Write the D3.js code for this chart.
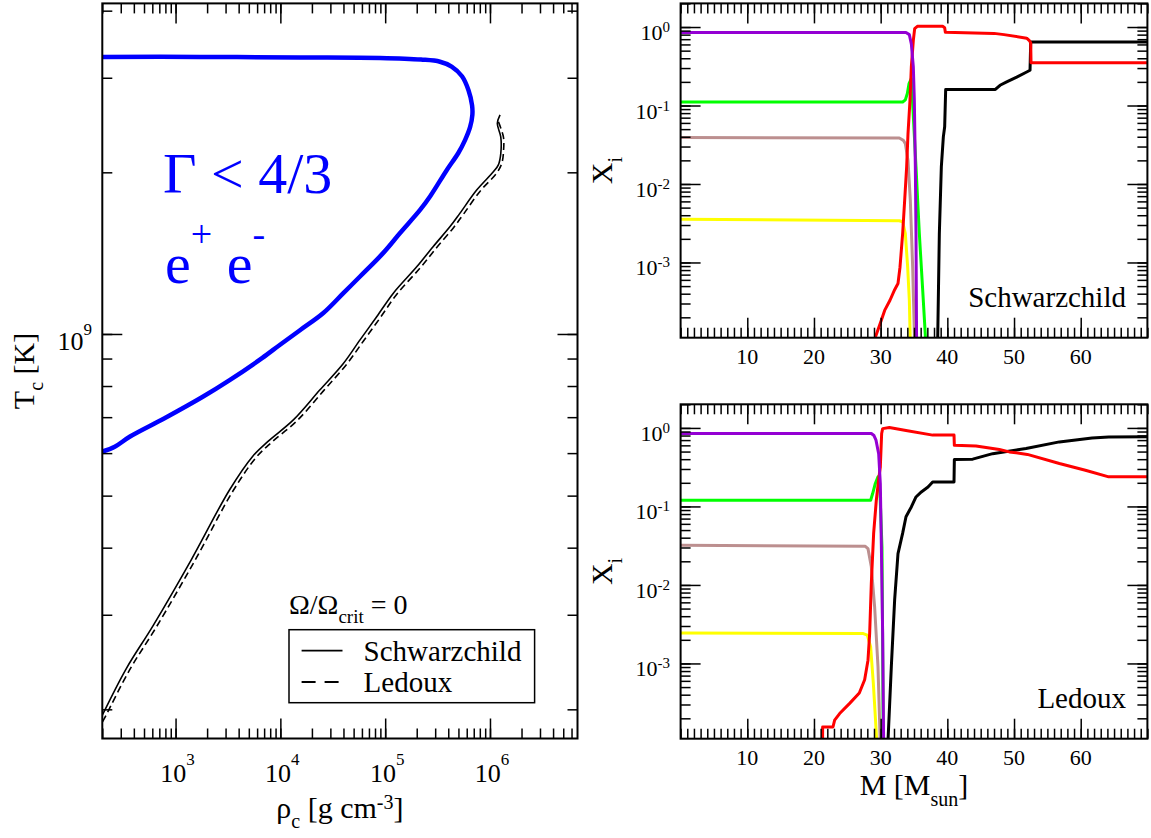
<!DOCTYPE html>
<html>
<head>
<meta charset="utf-8">
<script src="https://cdn.jsdelivr.net/npm/d3@7.9.0/dist/d3.min.js"></script>
<style>
  body { margin: 0; background: #fff; }
  svg { display: block; font-family: "Liberation Serif", "Times New Roman", serif; }
</style>
</head>
<body>
<svg id="fig" width="1151" height="838"></svg>
<script>
// ---- left panel: central track, [log10 rho_c, log10 T_c] ----
const gammaEdge = [
  [2.301, 9.516], [3.233, 9.516], [4.188, 9.515], [4.951, 9.514], [5.342, 9.511],
  [5.523, 9.507], [5.634, 9.498], [5.733, 9.480], [5.795, 9.454], [5.829, 9.426],
  [5.832, 9.408], [5.810, 9.385], [5.762, 9.361], [5.698, 9.337], [5.587, 9.305],
  [5.428, 9.256], [5.333, 9.231], [5.142, 9.188], [4.982, 9.151], [4.760, 9.107],
  [4.601, 9.076], [4.410, 9.039], [4.187, 9.007], [3.997, 8.980], [3.825, 8.955],
  [3.516, 8.914], [3.260, 8.883], [2.895, 8.843], [2.566, 8.809], [2.420, 8.790],
  [2.301, 8.781]
];
const schwTrack = [
  [6.096, 9.408], [6.070, 9.392], [6.103, 9.367], [6.103, 9.336], [6.080, 9.315],
  [6.032, 9.302], [5.873, 9.268], [5.714, 9.225], [5.619, 9.200], [5.459, 9.163],
  [5.301, 9.125], [5.078, 9.076], [4.919, 9.032], [4.760, 8.989], [4.601, 8.945],
  [4.378, 8.896], [4.124, 8.840], [3.882, 8.800], [3.735, 8.772], [3.516, 8.710],
  [3.151, 8.580], [2.786, 8.457], [2.530, 8.377], [2.301, 8.290]
];
const ledTrack = [
  [6.081, 9.395], [6.128, 9.367], [6.130, 9.343], [6.113, 9.318], [6.065, 9.300],
  [5.906, 9.266], [5.747, 9.223], [5.652, 9.198], [5.492, 9.161], [5.334, 9.123],
  [5.111, 9.074], [4.952, 9.030], [4.793, 8.987], [4.634, 8.944], [4.411, 8.894],
  [4.157, 8.838], [3.915, 8.798], [3.768, 8.770], [3.549, 8.708], [3.184, 8.578],
  [2.819, 8.455], [2.563, 8.375], [2.334, 8.289], [2.301, 8.277]
];
const rhoMajor = [1e3, 1e4, 1e5, 1e6];
const rhoLabels = ["3", "4", "5", "6"];
const tMajor = [1e9];
const tLabels = ["9"];

// ---- right panels: mass fraction profiles, [M, X_i] ----
const schwPurple = [[0, 0.85], [33.8, 0.85], [34.3, 0.80], [34.6, 0.61], [34.9, 0.31], [35.05, 0.117], [35.2, 0.0166], [35.3, 0.00234], [35.45, 1e-5]];
const schwGreen = [[0, 0.111], [33.3, 0.111], [33.7, 0.118], [34.0, 0.142], [34.25, 0.19], [34.6, 0.22], [35.3, 0.0166], [35.8, 0.00234], [36.3, 4.5e-4], [36.75, 1.0e-4], [37.0, 3e-5]];
const schwBrown = [[0, 0.039], [32.8, 0.0385], [33.4, 0.036], [33.7, 0.0327], [34.1, 0.02], [34.45, 0.00617], [34.8, 8.7e-4], [35.1, 9e-5], [35.2, 1e-5]];
const schwYellow = [[0, 0.00356], [32.8, 0.0034], [33.3, 0.0033], [33.7, 0.00234], [34.05, 8.7e-4], [34.3, 3.3e-4], [34.45, 9e-5], [34.5, 1e-5]];
const schwRed = [[28.8, 5e-5], [29.1, 1.05e-4], [30.1, 1.84e-4], [30.6, 2.45e-4], [31.4, 3.3e-4], [32.1, 4.5e-4], [32.6, 5.4e-4], [32.9, 8.7e-4], [33.3, 0.00234], [33.6, 0.00617], [33.9, 0.0166], [34.1, 0.0437], [34.4, 0.117], [34.6, 0.31], [34.9, 0.676], [35.1, 0.955], [35.5, 1.02], [39.3, 1.02], [39.6, 0.98], [39.7, 0.86], [47.0, 0.83], [48.5, 0.80], [51.9, 0.72], [52.3, 0.67], [52.5, 0.63], [52.55, 0.35], [70, 0.35]];
const schwBlack = [[38.5, 1e-5], [38.55, 1e-4], [38.8, 0.00234], [39.1, 0.0166], [39.4, 0.0398], [39.6, 0.0537], [39.75, 0.16], [47.2, 0.16], [47.9, 0.181], [48.9, 0.2], [50.4, 0.23], [51.9, 0.267], [52.4, 0.281], [52.5, 0.645], [70, 0.645]];

const ledPurple = [[0, 0.85], [28.6, 0.85], [29.0, 0.80], [29.3, 0.70], [29.7, 0.47], [29.95, 0.196], [30.1, 0.034], [30.3, 0.0024], [30.45, 9e-5], [30.5, 1e-5]];
const ledGreen = [[0, 0.12], [28.5, 0.12], [28.8, 0.146], [29.2, 0.196], [29.6, 0.238], [29.9, 0.15], [30.2, 0.03], [30.4, 9e-5], [30.45, 1e-5]];
const ledBrown = [[0, 0.032], [27.7, 0.031], [28.1, 0.029], [28.6, 0.017], [29.1, 0.0052], [29.6, 9.1e-4], [29.95, 9e-5], [30.0, 1e-5]];
const ledYellow = [[0, 0.00245], [27.4, 0.0024], [28.0, 0.0023], [28.5, 0.00162], [28.9, 5.6e-4], [29.2, 2.1e-4], [29.45, 9e-5], [29.5, 1e-5]];
const ledRed = [[21.25, 1e-5], [21.3, 1.55e-4], [22.85, 1.55e-4], [23.1, 1.9e-4], [23.85, 2.3e-4], [25.35, 3.1e-4], [26.8, 4.2e-4], [27.6, 6.2e-4], [28.1, 0.0011], [28.35, 0.0024], [28.6, 0.0105], [28.95, 0.0457], [29.35, 0.12], [29.75, 0.238], [29.95, 0.318], [30.15, 0.85], [30.3, 0.98], [31.3, 1.01], [33.8, 0.93], [37.8, 0.81], [41.0, 0.81], [41.05, 0.6], [44.3, 0.59], [47.8, 0.53], [49.3, 0.495], [52.0, 0.46], [56.8, 0.352], [60.7, 0.289], [64.2, 0.238], [70, 0.238]];
const ledBlack = [[31.0, 1e-5], [31.07, 9e-5], [31.6, 9.1e-4], [32.1, 0.0065], [32.6, 0.025], [33.3, 0.0457], [33.8, 0.074], [34.6, 0.0986], [35.3, 0.132], [36.1, 0.153], [37.1, 0.177], [37.8, 0.205], [41.0, 0.205], [41.05, 0.395], [43.8, 0.40], [46.8, 0.47], [51.8, 0.546], [56.8, 0.664], [61.7, 0.746], [64.2, 0.767], [70, 0.77]];

const massMajor = [10, 20, 30, 40, 50, 60];
const xiMajor = [1, 1e-1, 1e-2, 1e-3];
const xiLabels = ["0", "-1", "-2", "-3"];

const speciesColor = {
  black: "#000000", yellow: "#ffff00", brown: "#bc8f8f",
  green: "#00ff00", red: "#ff0000", purple: "#9400d3"
};

const svg = d3.select("#fig");

function makeClip(id, box) {
  svg.append("clipPath").attr("id", id).append("rect")
    .attr("x", box.x0).attr("y", box.y0)
    .attr("width", box.x1 - box.x0).attr("height", box.y1 - box.y0);
  return svg.append("g").attr("clip-path", `url(#${id})`);
}

function drawTicks(box, x, y, xMajor, xMinor, yMajor, yMinor) {
  const sides = [
    [d3.axisBottom, x, `translate(0,${box.y1})`, xMajor, xMinor],
    [d3.axisTop, x, `translate(0,${box.y0})`, xMajor, xMinor],
    [d3.axisLeft, y, `translate(${box.x0},0)`, yMajor, yMinor],
    [d3.axisRight, y, `translate(${box.x1},0)`, yMajor, yMinor]
  ];
  sides.forEach(([axis, s, tr, major, minor]) => {
    [[minor, 10], [major, 20]].forEach(([vals, len]) => {
      const a = svg.append("g").attr("transform", tr)
        .call(axis(s).tickValues(vals).tickSize(-len).tickFormat(""));
      a.select(".domain").remove();
      a.selectAll("line").attr("stroke", "#000").attr("stroke-width", 1.5);
    });
  });
  svg.append("rect")
    .attr("x", box.x0).attr("y", box.y0)
    .attr("width", box.x1 - box.x0).attr("height", box.y1 - box.y0)
    .attr("fill", "none").attr("stroke", "#000").attr("stroke-width", 2);
}

function powLabel(px, py, exp, anchor, size, supSize, shift) {
  const t = svg.append("text")
    .attr("x", px).attr("y", py)
    .attr("text-anchor", anchor)
    .attr("font-size", size);
  t.append("tspan").text("10");
  t.append("tspan").attr("font-size", supSize).attr("dy", -shift).text(exp);
}

// ===== left panel =====
const L = {x0: 102.3, x1: 577.5, y0: 3.4, y1: 738.5};
const xRho = d3.scaleLog().domain([200, 6.84e6]).range([L.x0, L.x1]);
const yT = d3.scaleLog().domain([10 ** 8.2467, 10 ** 9.6156]).range([L.y1, L.y0]);

const leftPlot = makeClip("clipL", L);
const trackLine = d3.line()
  .x(d => xRho(10 ** d[0]))
  .y(d => yT(10 ** d[1]))
  .curve(d3.curveCatmullRom.alpha(0.5));

leftPlot.append("path").datum(gammaEdge)
  .attr("d", trackLine).attr("fill", "none")
  .attr("stroke", "#0000ff").attr("stroke-width", 4.5)
  .attr("stroke-linejoin", "round");
leftPlot.append("path").datum(schwTrack)
  .attr("d", trackLine).attr("fill", "none")
  .attr("stroke", "#000").attr("stroke-width", 1.6);
leftPlot.append("path").datum(ledTrack)
  .attr("d", trackLine).attr("fill", "none")
  .attr("stroke", "#000").attr("stroke-width", 1.6)
  .attr("stroke-dasharray", "7,4");

drawTicks(L, xRho, yT, rhoMajor, xRho.ticks(), tMajor, yT.ticks());

rhoMajor.forEach((v, i) => powLabel(xRho(v) + 2, 781.5, rhoLabels[i], "middle", 26, 17, 17));
tMajor.forEach((v, i) => powLabel(92, yT(v) + 16, tLabels[i], "end", 26, 17, 15));

// axis titles
const tTitle = svg.append("text")
  .attr("transform", `translate(33.5,${(L.y0 + L.y1) / 2}) rotate(-90)`)
  .attr("text-anchor", "middle").attr("font-size", 30);
tTitle.append("tspan").text("T");
tTitle.append("tspan").attr("font-size", 20).attr("dy", 9).text("c");
tTitle.append("tspan").attr("dy", -9).text(" [K]");

const rTitle = svg.append("text")
  .attr("x", (L.x0 + L.x1) / 2).attr("y", 818)
  .attr("text-anchor", "middle").attr("font-size", 30);
rTitle.append("tspan").text("ρ");
rTitle.append("tspan").attr("font-size", 20).attr("dy", 10).text("c");
rTitle.append("tspan").attr("dy", -10).text(" [g cm");
rTitle.append("tspan").attr("font-size", 20).attr("dy", -9).text("-3");
rTitle.append("tspan").attr("dy", 9).text("]");

// annotations
svg.append("text")
  .attr("x", 163).attr("y", 192.7)
  .attr("font-size", 58).attr("fill", "#0000ff")
  .text("Γ < 4/3");
const ee = svg.append("text")
  .attr("x", 165).attr("y", 283.3)
  .attr("font-size", 58).attr("fill", "#0000ff");
ee.append("tspan").text("e");
ee.append("tspan").attr("font-size", 38).attr("dy", -36).text("+");
ee.append("tspan").attr("dy", 36).text(" e");
ee.append("tspan").attr("font-size", 38).attr("dy", -36).text("-");

const om = svg.append("text")
  .attr("x", 289).attr("y", 614).attr("font-size", 28);
om.append("tspan").text("Ω/Ω");
om.append("tspan").attr("font-size", 19).attr("dy", 9).text("crit");
om.append("tspan").attr("dy", -9).text(" = 0");

// legend
svg.append("rect")
  .attr("x", 289).attr("y", 629.7).attr("width", 245.6).attr("height", 73)
  .attr("fill", "#fff").attr("stroke", "#000").attr("stroke-width", 1.5);
const legendRows = [
  {label: "Schwarzchild", dash: null, y: 650.6},
  {label: "Ledoux", dash: "14,9", y: 682}
];
legendRows.forEach(r => {
  svg.append("line")
    .attr("x1", 301.6).attr("x2", 342.5).attr("y1", r.y).attr("y2", r.y)
    .attr("stroke", "#000").attr("stroke-width", 1.8)
    .attr("stroke-dasharray", r.dash);
  svg.append("text")
    .attr("x", 363.6).attr("y", r.y + 10)
    .attr("font-size", 29).text(r.label);
});

// ===== right panels =====
const RT = {x0: 680.6, x1: 1147.4, y0: 3.4, y1: 337.7};
const RB = {x0: 680.6, x1: 1147.4, y0: 404.3, y1: 738.7};

function compositionPanel(box, id, series, label) {
  const x = d3.scaleLinear().domain([0, 70]).range([box.x0, box.x1]);
  const y = d3.scaleLog().domain([1.1e-4, 2]).range([box.y1, box.y0]);
  const plot = makeClip(id, box);
  const line = d3.line().x(d => x(d[0])).y(d => y(d[1]));
  series.forEach(s => {
    plot.append("path").datum(s.data)
      .attr("d", line).attr("fill", "none")
      .attr("stroke", speciesColor[s.color]).attr("stroke-width", 3)
      .attr("stroke-linejoin", "round");
  });
  drawTicks(box, x, y, massMajor, d3.range(0, 71, 1), xiMajor, y.ticks());

  massMajor.forEach(v => {
    svg.append("text")
      .attr("x", x(v)).attr("y", box.y1 + 25.8)
      .attr("text-anchor", "middle").attr("font-size", 22)
      .text(v);
  });
  xiMajor.forEach((v, i) => powLabel(670, y(v) + 13, xiLabels[i], "end", 22, 15, 8));

  const xt = svg.append("text")
    .attr("transform", `translate(612,${(box.y0 + box.y1) / 2}) rotate(-90)`)
    .attr("text-anchor", "middle").attr("font-size", 30);
  xt.append("tspan").text("X");
  xt.append("tspan").attr("font-size", 20).attr("dy", 10).text("i");

  svg.append("text")
    .attr("x", 1126).attr("y", box.y0 + 303.5)
    .attr("text-anchor", "end").attr("font-size", 29)
    .text(label);
}

compositionPanel(RT, "clipRT", [
  {color: "black", data: schwBlack},
  {color: "yellow", data: schwYellow},
  {color: "brown", data: schwBrown},
  {color: "green", data: schwGreen},
  {color: "red", data: schwRed},
  {color: "purple", data: schwPurple}
], "Schwarzchild");

compositionPanel(RB, "clipRB", [
  {color: "black", data: ledBlack},
  {color: "yellow", data: ledYellow},
  {color: "brown", data: ledBrown},
  {color: "green", data: ledGreen},
  {color: "red", data: ledRed},
  {color: "purple", data: ledPurple}
], "Ledoux");

const mTitle = svg.append("text")
  .attr("x", (RB.x0 + RB.x1) / 2).attr("y", 795)
  .attr("text-anchor", "middle").attr("font-size", 30);
mTitle.append("tspan").text("M [M");
mTitle.append("tspan").attr("font-size", 20).attr("dy", 11).text("sun");
mTitle.append("tspan").attr("dy", -11).text("]");
</script>
</body>
</html>
